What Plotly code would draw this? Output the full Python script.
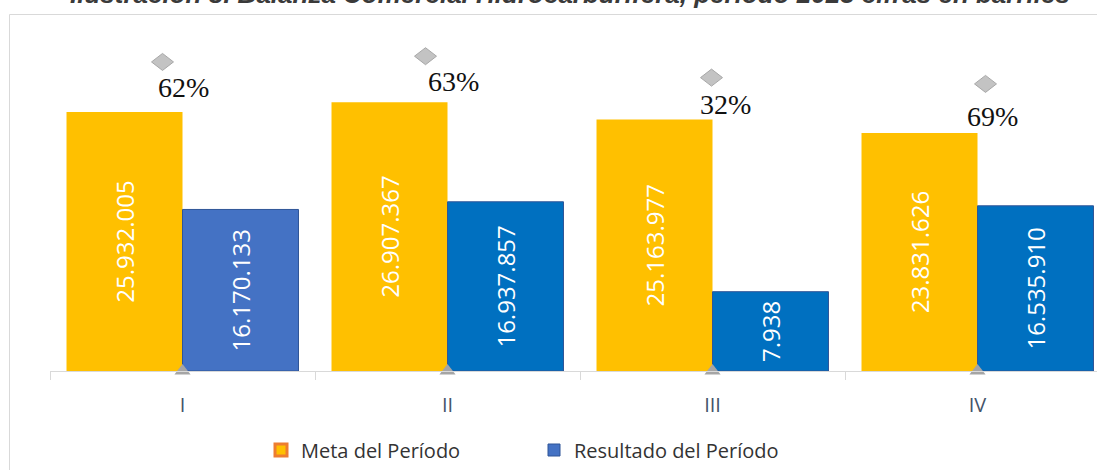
import plotly.graph_objects as go

# ---------------- data ----------------
categories = ["I", "II", "III", "IV"]
meta = [25932005, 26907367, 25163977, 23831626]
resultado = [16170133, 16937857, 7938000, 16535910]
resultado_labels = ["16.170.133", "16.937.857", "7.938", "16.535.910"]
baseline = [0, 0, 0, 0]
title_text = "Ilustración 8. Balanza Comercial Hidrocarburífera, período 2023 cifras en barriles"
legend_names = ["Meta del Período", "Resultado del Período"]

meta_labels = [f"{v:,}".replace(",", ".") for v in meta]
pct = [round(r / m * 100) for r, m in zip(resultado, meta)]

# ---------------- styles ----------------
META_COLOR = "#FFC000"
RES_COLORS = ["#4472C4", "#0070C0", "#0070C0", "#0070C0"]
BAR_W = 0.4377
# manual label placement (pixel offsets from the top of each "Meta" bar)
diamond_off = [(-20, -50), (-22, -46), (-1, -42), (8, -49)]
pct_off = [(1, -24), (6, -21), (13, -15), (15, -16)]

W, H = 1097, 470
ML, MR, MT, MB = 50, 0, 14, 99
plot_w = W - ML - MR
plot_h = H - MT - MB
px_per_cat = 265.0
y_top = plot_h / 9.99 * 1e6

bar_font = dict(color="white", size=24, family="Open Sans, sans-serif")

fig = go.Figure()
fig.add_trace(go.Bar(
    x=categories, y=meta, width=BAR_W, offset=-BAR_W,
    marker=dict(color=META_COLOR, line=dict(width=0)),
    text=meta_labels, textposition="inside", insidetextanchor="middle",
    textangle=-90, textfont=bar_font, constraintext="none",
    showlegend=False, hoverinfo="skip",
))
fig.add_trace(go.Bar(
    x=categories, y=resultado, width=BAR_W, offset=0,
    marker=dict(color=RES_COLORS, line=dict(color="#2F5597", width=1)),
    text=resultado_labels, textposition="inside", insidetextanchor="middle",
    textangle=-90, textfont=bar_font, constraintext="none",
    name=legend_names[1], legendrank=2, hoverinfo="skip",
))
# legend-only entry for the goal series (orange-bordered key)
fig.add_trace(go.Bar(
    x=[None], y=[None], name=legend_names[0], legendrank=1,
    marker=dict(color=META_COLOR, line=dict(color="#ED7D31", width=3)),
))
fig.add_trace(go.Scatter(
    x=categories, y=baseline, mode="markers",
    marker=dict(symbol="triangle-up", size=14, color="#A5A5A5"),
    showlegend=False, cliponaxis=False, hoverinfo="skip",
))

shapes = []
annotations = []
for i, c in enumerate(categories):
    dx, dy = diamond_off[i]
    cy = -dy
    path = (f"M {dx-11},{cy} L {dx},{cy+8.5} L {dx+11},{cy} L {dx},{cy-8.5} Z")
    shapes.append(dict(
        type="path", xref="x", yref="y", xsizemode="pixel", ysizemode="pixel",
        xanchor=c, yanchor=meta[i], path=path,
        fillcolor="#C3C3C3", line=dict(color="#A8A8A8", width=1), layer="above",
    ))
    tx, ty = pct_off[i]
    annotations.append(dict(
        x=c, y=meta[i], xref="x", yref="y", xshift=tx, yshift=-ty,
        text=f"{pct[i]}%", showarrow=False,
        font=dict(family="Liberation Serif, serif", size=28, color="#111111"),
        xanchor="center", yanchor="middle",
    ))

# chart frame
shapes.append(dict(
    type="rect", xref="paper", yref="paper",
    x0=(9.5 - ML) / plot_w, x1=1.2, y0=-0.6, y1=(H - MB - 14.5) / plot_h,
    line=dict(color="#D9D9D9", width=1), fillcolor="rgba(0,0,0,0)", layer="above",
))
# caption (cut off at the top of the image)
annotations.append(dict(
    x=(570 - ML) / plot_w, y=(H - MB + 6) / plot_h, xref="paper", yref="paper",
    text=title_text, showarrow=False, xanchor="center", yanchor="middle",
    font=dict(family="Liberation Sans, sans-serif", size=26, color="#3A3A3A",
              style="italic", weight="bold"),
))

fig.update_layout(
    width=W, height=H,
    margin=dict(l=ML, r=MR, t=MT, b=MB),
    paper_bgcolor="white", plot_bgcolor="white",
    barmode="group",
    shapes=shapes, annotations=annotations,
    showlegend=True,
    legend=dict(
        orientation="h", x=(534 - ML) / plot_w, xanchor="center",
        y=-(450 - (H - MB)) / plot_h, yanchor="middle",
        font=dict(family="Open Sans, sans-serif", size=20, color="#333333"),
        entrywidth=228, entrywidthmode="pixels", traceorder="normal",
    ),
    xaxis=dict(
        type="category", range=[-0.5, -0.5 + plot_w / px_per_cat],
        showline=True, linecolor="#D9D9D9", linewidth=1,
        ticks="outside", tickson="boundaries", ticklen=8, tickcolor="#D9D9D9",
        tickfont=dict(family="Open Sans, sans-serif", size=20, color="#44546A"),
        ticklabelstandoff=16, showgrid=False, zeroline=False, fixedrange=True,
    ),
    yaxis=dict(visible=False, range=[0, y_top], showgrid=False, zeroline=False),
)

fig.write_html(
    "out.html",
    config={"displayModeBar": False},
    post_script="document.body.style.margin='0px';document.body.style.overflow='hidden';",
)
